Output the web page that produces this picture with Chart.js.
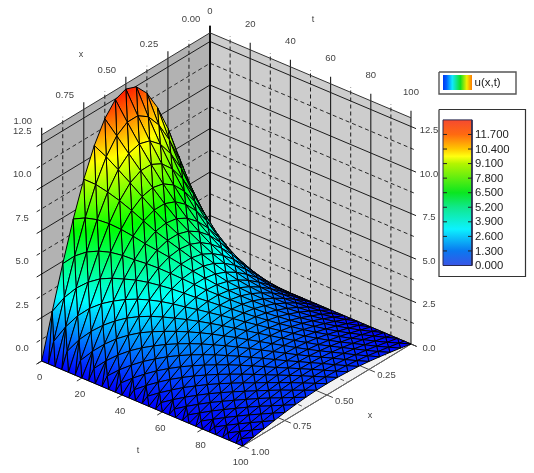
<!DOCTYPE html>
<html><head><meta charset="utf-8">
<style>html,body{margin:0;padding:0;background:#fff}canvas{display:block}</style>
<script src="https://cdn.jsdelivr.net/npm/chart.js@4"></script>
</head><body><canvas id="c" width="534" height="473"></canvas>
<script>
const xTicks=[0,0.25,0.5,0.75,1];
const xMinor=[0.125,0.375,0.625,0.875];
const tTicks=[0,20,40,60,80,100];
const tMinor=[10,30,50,70,90];
const uTicks=[0,2.5,5,7.5,10,12.5];
const uMinor=[1.25,3.75,6.25,8.75,11.25];
const barTicks=[0,1.3,2.6,3.9,5.2,6.5,7.8,9.1,10.4,11.7];
const seriesName='u(x,t)';
const xEven=[0,0.0625,0.125,0.1875,0.25,0.3125,0.375,0.4375,0.5,0.5625,0.625,0.6875,0.75,0.8125,0.875,0.9375,1];
const xOdd=[0,0.03125,0.09375,0.15625,0.21875,0.28125,0.34375,0.40625,0.46875,0.53125,0.59375,0.65625,0.71875,0.78125,0.84375,0.90625,0.96875,1];
const tRows=[0,3.33,6.67,10,13.33,16.67,20,23.33,26.67,30,33.33,36.67,40,43.33,46.67,50,53.33,56.67,60,63.33,66.67,70,73.33,76.67,80,83.33,86.67,90,93.33,96.67,100];
const uTable=[
[0,2.48,4.86,7.06,8.98,10.55,11.73,12.46,12.70,12.46,11.73,10.55,8.98,7.06,4.86,2.48,0],
[0,1.10,3.25,5.28,7.10,8.66,9.88,10.72,11.14,11.14,10.72,9.88,8.66,7.10,5.28,3.25,1.10,0],
[0,1.92,3.78,5.49,6.98,8.20,9.12,9.68,9.87,9.68,9.12,8.20,6.98,5.49,3.78,1.92,0],
[0,0.85,2.53,4.10,5.52,6.73,7.68,8.34,8.67,8.67,8.34,7.68,6.73,5.52,4.10,2.53,0.85,0],
[0,1.50,2.94,4.27,5.43,6.38,7.10,7.53,7.68,7.53,7.10,6.38,5.43,4.27,2.94,1.50,0],
[0,0.66,1.96,3.19,4.29,5.23,5.97,6.48,6.74,6.74,6.48,5.97,5.23,4.29,3.19,1.96,0.66,0],
[0,1.16,2.29,3.32,4.22,4.96,5.52,5.86,5.97,5.86,5.52,4.96,4.22,3.32,2.29,1.16,0],
[0,0.52,1.55,2.52,3.39,4.14,4.72,5.12,5.32,5.32,5.12,4.72,4.14,3.39,2.52,1.55,0.52,0],
[0,0.94,1.84,2.67,3.39,3.99,4.44,4.71,4.80,4.71,4.44,3.99,3.39,2.67,1.84,0.94,0],
[0,0.42,1.25,2.03,2.73,3.32,3.79,4.12,4.28,4.28,4.12,3.79,3.32,2.73,2.03,1.25,0.42,0],
[0,0.75,1.48,2.15,2.73,3.21,3.57,3.79,3.86,3.79,3.57,3.21,2.73,2.15,1.48,0.75,0],
[0,0.34,1.00,1.63,2.19,2.67,3.05,3.31,3.44,3.44,3.31,3.05,2.67,2.19,1.63,1.00,0.34,0],
[0,0.60,1.19,1.72,2.19,2.58,2.86,3.04,3.10,3.04,2.86,2.58,2.19,1.72,1.19,0.60,0],
[0,0.28,0.81,1.32,1.78,2.17,2.48,2.69,2.80,2.80,2.69,2.48,2.17,1.78,1.32,0.81,0.28,0],
[0,0.50,0.98,1.42,1.80,2.12,2.36,2.50,2.55,2.50,2.36,2.12,1.80,1.42,0.98,0.50,0],
[0,0.23,0.67,1.09,1.47,1.79,2.05,2.22,2.31,2.31,2.22,2.05,1.79,1.47,1.09,0.67,0.23,0],
[0,0.41,0.81,1.17,1.49,1.75,1.95,2.07,2.11,2.07,1.95,1.75,1.49,1.17,0.81,0.41,0],
[0,0.19,0.55,0.90,1.21,1.48,1.68,1.83,1.90,1.90,1.83,1.68,1.48,1.21,0.90,0.55,0.19,0],
[0,0.34,0.67,0.97,1.23,1.45,1.61,1.71,1.74,1.71,1.61,1.45,1.23,0.97,0.67,0.34,0],
[0,0.15,0.46,0.74,1.00,1.22,1.39,1.51,1.57,1.57,1.51,1.39,1.22,1.00,0.74,0.46,0.15,0],
[0,0.28,0.55,0.80,1.02,1.20,1.33,1.41,1.44,1.41,1.33,1.20,1.02,0.80,0.55,0.28,0],
[0,0.13,0.38,0.62,0.83,1.01,1.16,1.25,1.30,1.30,1.25,1.16,1.01,0.83,0.62,0.38,0.13,0],
[0,0.23,0.46,0.66,0.84,0.99,1.10,1.17,1.19,1.17,1.10,0.99,0.84,0.66,0.46,0.23,0],
[0,0.11,0.32,0.51,0.69,0.84,0.96,1.04,1.08,1.08,1.04,0.96,0.84,0.69,0.51,0.32,0.11,0],
[0,0.19,0.38,0.55,0.70,0.82,0.91,0.97,0.99,0.97,0.91,0.82,0.70,0.55,0.38,0.19,0],
[0,0.09,0.27,0.43,0.58,0.71,0.81,0.88,0.92,0.92,0.88,0.81,0.71,0.58,0.43,0.27,0.09,0],
[0,0.17,0.33,0.48,0.61,0.71,0.79,0.84,0.86,0.84,0.79,0.71,0.61,0.48,0.33,0.17,0],
[0,0.08,0.23,0.38,0.51,0.62,0.71,0.77,0.80,0.80,0.77,0.71,0.62,0.51,0.38,0.23,0.08,0],
[0,0.14,0.28,0.41,0.52,0.61,0.68,0.73,0.74,0.73,0.68,0.61,0.52,0.41,0.28,0.14,0],
[0,0.07,0.20,0.32,0.44,0.53,0.61,0.66,0.69,0.69,0.66,0.61,0.53,0.44,0.32,0.20,0.07,0],
[0,0.13,0.25,0.36,0.46,0.54,0.60,0.64,0.65,0.64,0.60,0.54,0.46,0.36,0.25,0.13,0]
];
/* surface colour map: value, r,g,b */
const surfaceStops=[[0,0,0,255],[3.25,0,255,255],[6.5,0,255,0],[9.75,255,255,0],[13,255,0,0]];
const barStops=[[0,'#3a55e6'],[1.3,'#0a78f0'],[3.25,'#0cf2ff'],[5.2,'#10e88c'],[6.5,'#0ae620'],[9.1,'#b4f500'],[9.75,'#ffff10'],[10.4,'#ffc800'],[11.7,'#ff6a10'],[13,'#f54a30']];
const keyStops=[[0,'#0038f0'],[0.12,'#0060ff'],[0.32,'#10e8ff'],[0.6,'#10e020'],[0.82,'#f0f000'],[1,'#ff7a00']];

/* oblique view of the box: screen position of (x, t, u) */
const P=(x,t,u)=>({x:210-168.3*x+2.01*t,y:259+102*x+0.85*t-17.4*u});
const uTop=13, tip=13.4;
const barY=v=>265.5-v*11.2;

function colorAt(v){
  for(let i=1;i<surfaceStops.length;i++){
    const a=surfaceStops[i-1],b=surfaceStops[i];
    if(v<=b[0]){const f=(v-a[0])/(b[0]-a[0]);
      return `rgb(${Math.round(a[1]+f*(b[1]-a[1]))},${Math.round(a[2]+f*(b[2]-a[2]))},${Math.round(a[3]+f*(b[3]-a[3]))})`;}
  }
  return 'rgb(255,0,0)';
}
function triFill(nodes){
  const s=[...nodes].sort((a,b)=>a.u-b.u),[A,B,C]=s;
  return c=>{
    const ch=c.chart; if(!ch.chartArea) return colorAt((A.u+B.u+C.u)/3);
    const X=p=>ch.scales.x.getPixelForValue(p.x),Y=p=>ch.scales.y.getPixelForValue(p.y);
    const du=C.u-A.u; if(du<1e-4) return colorAt(A.u);
    const ax=X(A.p),ay=Y(A.p),bx=X(B.p),by=Y(B.p),cx=X(C.p),cy=Y(C.p);
    const r=(B.u-A.u)/du,qx=ax+(cx-ax)*r,qy=ay+(cy-ay)*r;
    let dx=qx-bx,dy=qy-by,len=Math.hypot(dx,dy),nx,ny;
    if(len<1e-3){const l=Math.hypot(cx-ax,cy-ay);nx=(cx-ax)/l;ny=(cy-ay)/l;}
    else{nx=-dy/len;ny=dx/len;}
    const L=(cx-ax)*nx+(cy-ay)*ny; if(Math.abs(L)<1e-3) return colorAt((A.u+C.u)/2);
    const g=ch.ctx.createLinearGradient(ax,ay,ax+nx*L,ay+ny*L);
    g.addColorStop(0,colorAt(A.u));
    surfaceStops.forEach(st=>{if(st[0]>A.u&&st[0]<C.u)g.addColorStop((st[0]-A.u)/du,colorAt(st[0]));});
    g.addColorStop(1,colorAt(C.u));
    return g;
  };
}
const drawList=[];
const line=(pts,color,width,dash)=>drawList.push({data:pts,showLine:true,fill:false,borderColor:color,borderWidth:width,borderDash:dash||[],pointRadius:0,tension:0});
const poly=(pts,bg,border,width)=>drawList.push({data:[...pts,pts[0]],showLine:true,fill:'shape',backgroundColor:bg,borderColor:border||'rgba(0,0,0,0)',borderWidth:width||0,pointRadius:0,tension:0});

/* walls and floor */
poly([P(0,0,0),P(1,0,0),P(1,100,0),P(0,100,0)],'#f2f2f2');
poly([P(0,0,0),P(1,0,0),P(1,0,uTop),P(0,0,uTop)],'#b2b2b2');
poly([P(0,0,0),P(0,100,0),P(0,100,uTop),P(0,0,uTop)],'#cdcdcd');
const solid='#1c1c1c',DASH=[4,3];
uTicks.forEach(u=>{line([P(1.03,0,u),P(0,0,u),P(0,102.5,u)],solid,1);});
uMinor.forEach(u=>{line([P(1.03,0,u),P(0,0,u),P(0,102.5,u)],'#2a2a2a',1,DASH);});
xTicks.forEach(x=>{line([P(x,0,0),P(x,0,tip)],x===0||x===1?'#000':solid,x===0?1.4:1.1);});
xMinor.forEach(x=>{line([P(x,0,0),P(x,0,tip-0.1)],'#1c1c1c',1,DASH);});
tTicks.forEach(t=>{line([P(0,t,0),P(0,t,tip)],t===0?'#000':solid,t===0?1.4:1.1);});
tMinor.forEach(t=>{line([P(0,t,0),P(0,t,tip-0.1)],'#1c1c1c',1,DASH);});
line([P(1,0,uTop),P(0,0,uTop),P(0,100,uTop)],'#333',1);
/* floor grid and axis ticks */
xTicks.forEach(x=>{line([P(x,0,0),P(x,103,0)],'#444',1);});
xMinor.forEach(x=>{line([P(x,0,0),P(x,100,0)],'#666',1,DASH);});
tTicks.forEach(t=>{line([P(0,t,0),P(1.03,t,0)],'#333',1);});
tMinor.forEach(t=>{line([P(0,t,0),P(1,t,0)],'#666',1,DASH);});
line([P(1,100,0),P(0,100,0)],'#6a6a6a',1);

/* triangulated surface, back to front */
const tris=[];
for(let j=0;j<tRows.length-1;j++){
  const xa=j%2?xOdd:xEven,xb=j%2?xEven:xOdd,ua=uTable[j],ub=uTable[j+1],ta=tRows[j],tb=tRows[j+1];
  const N=(x,t,u)=>({x,t,u,p:P(x,t,u)});
  let a=0,b=0;
  while(a<xa.length-1||b<xb.length-1){
    const na=a<xa.length-1?xa[a+1]:Infinity,nb=b<xb.length-1?xb[b+1]:Infinity;
    const A=N(xa[a],ta,ua[a]),B=N(xb[b],tb,ub[b]);
    if(na<nb){tris.push([A,B,N(xa[a+1],ta,ua[a+1])]);a++;}
    else{tris.push([A,B,N(xb[b+1],tb,ub[b+1])]);b++;}
  }
}
const depth=T=>T.reduce((s,n)=>s+102*n.x+0.85*n.t,0);
tris.sort((p,q)=>depth(p)-depth(q));
tris.forEach(T=>poly(T.map(n=>n.p),triFill(T),'#000',1));

/* key and colour bar */
const hGrad=(stops,x0,x1)=>c=>{
  if(!c.chart.chartArea) return stops[0][1];
  const s=c.chart.scales,g=c.chart.ctx.createLinearGradient(s.x.getPixelForValue(x0),0,s.x.getPixelForValue(x1),0);
  stops.forEach(st=>g.addColorStop(st[0],st[1]));return g;
};
const vGrad=c=>{
  if(!c.chart.chartArea) return barStops[0][1];
  const s=c.chart.scales.y,g=c.chart.ctx.createLinearGradient(0,s.getPixelForValue(barY(0)),0,s.getPixelForValue(barY(13)));
  barStops.forEach(st=>g.addColorStop(st[0]/13,st[1]));return g;
};
const R=(a,b,c,d)=>[{x:a,y:b},{x:c,y:b},{x:c,y:d},{x:a,y:d}];
poly(R(439,72,516,94),'#fff','#555',1.4);
poly(R(443,75,472,90),hGrad(keyStops,443,472));
poly(R(439,109.5,525.5,276.5),'#fff','#333',1.2);
poly(R(443,barY(13),472,barY(0)),vGrad,'#2a2a50',1);
barTicks.slice(1).forEach(v=>{
  line([{x:443,y:barY(v)},{x:447,y:barY(v)}],'#222',1);
  line([{x:468,y:barY(v)},{x:472,y:barY(v)}],'#222',1);
});

const labelPlugin={id:'labels',afterDraw(ch){
  const c=ch.ctx,sx=v=>ch.scales.x.getPixelForValue(v),sy=v=>ch.scales.y.getPixelForValue(v);
  const T=(s,p,dx,dy,al)=>{c.textAlign=al||'center';c.fillText(s,sx(p.x)+dx,sy(p.y)+dy);};
  c.save();c.textBaseline='middle';c.fillStyle='#444';c.font='9.5px "Liberation Sans", Arial, sans-serif';
  xTicks.forEach(x=>{T(x.toFixed(2),P(x,0,uTop),-19,-13.5);if(x>0)T(x.toFixed(2),P(x,100,0),17.5,6);});
  tTicks.forEach(t=>{T(String(t),P(0,t,uTop),0,t===0?-21:-25);T(String(t),P(1,t,0),-2,16.5);});
  uTicks.forEach(u=>{T(u.toFixed(1),P(1,0,u),-19.5,-12.5);T(u.toFixed(1),P(0,100,u),18,4);});
  c.font='9px "Liberation Sans", Arial, sans-serif';
  [['x',81,55],['t',313,20],['x',370,416],['t',138,451]].forEach(a=>T(a[0],{x:a[1],y:a[2]},0,0));
  c.fillStyle='#222';c.font='11.3px "Liberation Sans", Arial, sans-serif';
  barTicks.forEach(v=>T(v.toFixed(3),{x:475,y:barY(v)},0,0.5,'left'));
  c.font='11.5px "Liberation Sans", Arial, sans-serif';
  T(seriesName,{x:474.5,y:83},0,0,'left');
  c.restore();
}};

new Chart(document.getElementById('c'),{
  type:'scatter',
  data:{datasets:drawList.slice().reverse()},
  plugins:[labelPlugin],
  options:{
    responsive:false,animation:false,events:[],
    layout:{padding:0},
    plugins:{legend:{display:false},tooltip:{enabled:false}},
    scales:{
      x:{type:'linear',display:false,min:0,max:534},
      y:{type:'linear',display:false,min:0,max:473,reverse:true}
    }
  }
});
</script></body></html>
